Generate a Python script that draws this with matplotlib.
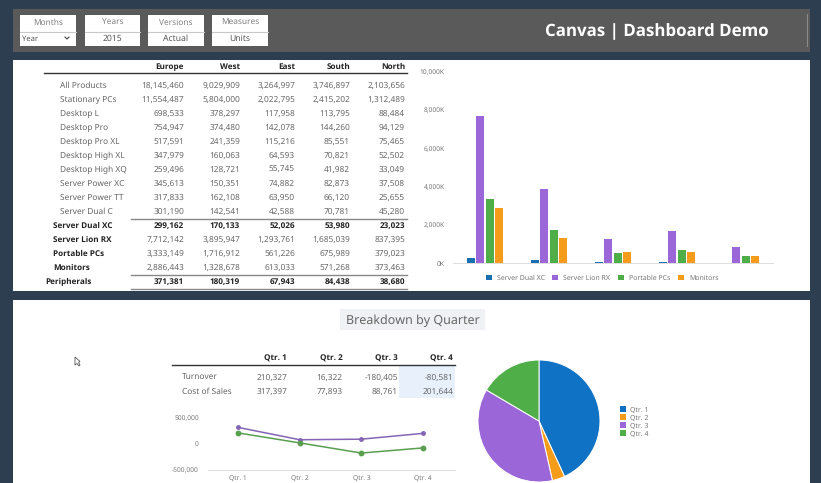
import numpy as np
import matplotlib
matplotlib.use('Agg')
import matplotlib.pyplot as plt
from matplotlib.patches import Rectangle, Polygon

plt.rcParams['font.family'] = ['Noto Sans', 'DejaVu Sans']
plt.rcParams['text.hinting'] = 'no_hinting'

W, H = 821, 483

# main table
regions = ['Europe', 'West', 'East', 'South', 'North']
products = ['All Products', 'Stationary PCs', 'Desktop L', 'Desktop Pro', 'Desktop Pro XL',
            'Desktop High XL', 'Desktop High XQ', 'Server Power XC', 'Server Power TT',
            'Server Dual C', 'Server Dual XC', 'Server Lion RX', 'Portable PCs',
            'Monitors', 'Peripherals']
all_products = [18145460, 9029909, 3264997, 3746897, 2103656]
stationary = [11554487, 5804000, 2022795, 2415202, 1312489]
desktop_l = [698533, 378297, 117958, 113795, 88484]
desktop_pro = [754947, 374480, 142078, 144260, 94129]
desktop_pro_xl = [517591, 241359, 115216, 85551, 75465]
desktop_high_xl = [347979, 160063, 64593, 70821, 52502]
desktop_high_xq = [259496, 128721, 55745, 41982, 33049]
server_power_xc = [345613, 150351, 74882, 82873, 37508]
server_power_tt = [317833, 162108, 63950, 66120, 25655]
server_dual_c = [301190, 142541, 42588, 70781, 45280]
server_dual_xc = [299162, 170133, 52026, 53980, 23023]
server_lion_rx = [7712142, 3895947, 1293761, 1685039, 837395]
portable = [3333149, 1716912, 561226, 675989, 379023]
monitors = [2886443, 1328678, 613033, 571268, 373463]
peripherals = [371381, 180319, 67943, 84438, 38680]
table_rows = [all_products, stationary, desktop_l, desktop_pro, desktop_pro_xl,
              desktop_high_xl, desktop_high_xq, server_power_xc, server_power_tt,
              server_dual_c, server_dual_xc, server_lion_rx, portable, monitors, peripherals]

# bar chart
bar_names = ['Server Dual XC', 'Server Lion RX', 'Portable PCs', 'Monitors']
bar_series = [server_dual_xc, server_lion_rx, portable, monitors]
bar_ticks = [0, 2000, 4000, 6000, 8000, 10000]

# quarters
quarters = ['Qtr. 1', 'Qtr. 2', 'Qtr. 3', 'Qtr. 4']
turnover = [210327, 16322, -180405, -80581]
cost_of_sales = [317397, 77893, 88761, 201644]
line_ticks = [-500000, 0, 500000]

# slicers
slicer_titles = ['Months', 'Years', 'Versions', 'Measures']
slicer_values = ['Year', '2015', 'Actual', 'Units']
slicer_x = [20, 85, 148, 212]
slicer_w = [56, 55, 56, 56]

NAVY = '#2d3e50'
BLUE = '#0f72c4'
ORANGE = '#f59c1a'
PURPLE = '#9b66d8'
GREEN = '#4fae48'
GREY = '#666666'
DARK = '#222222'

# Noto Sans has no usable bold here, Open Sans does
BOLD = {'family': ['Open Sans', 'DejaVu Sans'], 'fontweight': 'bold'}


def px_axes(fig, x0, y0, x1, y1):
    # axes from pixel box, y measured from the top
    return fig.add_axes([x0 / W, 1 - y1 / H, (x1 - x0) / W, (y1 - y0) / H])


def fmt(v):
    return f'{v:,}'


fig = plt.figure(figsize=(W / 100, H / 100), dpi=100, facecolor=NAVY)

bg = fig.add_axes([0, 0, 1, 1])
bg.set_xlim(0, W)
bg.set_ylim(H, 0)
bg.axis('off')


def txt(x, y, s, ha='left', **kw):
    # centre of the text sits a bit high without hinting
    return bg.text(x, y + 0.8, s, ha=ha, va='center', **kw)


# panels
bg.add_patch(Rectangle((13, 9), 797, 43, fc='#5a5a5a', ec='none'))
bg.add_patch(Rectangle((13, 60), 797, 231, fc='white', ec='none'))
bg.add_patch(Rectangle((13, 300), 797, 183, fc='white', ec='none'))

# slicers
for title, val, x, w in zip(slicer_titles, slicer_values, slicer_x, slicer_w):
    bg.add_patch(Rectangle((x, 15), w, 31, fc='white', ec='none'))
    bg.plot([x, x + w], [31.5, 31.5], color='#c8c8c8', lw=0.8)
    txt(x + w / 2, 21.5, title, ha='center', fontsize=6, color='#808080')
    if val == 'Year':
        txt(x + 2, 38, val, fontsize=5.5, color='#555555')
        bg.plot([65, 67, 69], [37, 39, 37], color='#444444', lw=0.8)
    else:
        txt(x + w / 2, 38, val, ha='center', fontsize=6.2, color='#555555')

txt(657, 30.5, 'Canvas | Dashboard Demo', ha='center', fontsize=12.2, color='white', **BOLD)
bg.plot([807, 807], [14, 46], color='#8a8a8a', lw=0.8)

# main table
col_right = [184, 240, 295, 350, 405]
row_top = 85
row_step = 14.0
for name, r in zip(regions, col_right):
    txt(r, 66, name, ha='right', fontsize=5.9, color=DARK, **BOLD)
bg.plot([44, 407], [72.5, 72.5], color='#333333', lw=1.0)
for i, (name, vals) in enumerate(zip(products, table_rows)):
    y = row_top + row_step * i
    label_bold = i >= 10
    x = 45 if name == 'Peripherals' else (53 if label_bold else 60)
    if label_bold:
        txt(x, y, name, fontsize=5.9, color=DARK, **BOLD)
    else:
        txt(x, y, name, fontsize=6, color=GREY)
    val_bold = name in ('Server Dual XC', 'Peripherals')
    for v, r in zip(vals, col_right):
        if val_bold:
            txt(r, y, fmt(v), ha='right', fontsize=5.9, color=DARK, **BOLD)
        else:
            txt(r, y, fmt(v), ha='right', fontsize=6, color=GREY)
for y in [219, 275, 289]:
    bg.plot([131, 407], [y, y], color='#888888', lw=1.0)

# bar legend
bar_colors = ['#1a6fb0', PURPLE, GREEN, ORANGE]
for name, c, x in zip(bar_names, bar_colors, [486, 552, 618, 678]):
    bg.add_patch(Rectangle((x, 274.5), 5.5, 5.5, fc=c, ec='none'))
    txt(x + 11, 277, name, fontsize=5, color='#777777')

# section title
bg.add_patch(Rectangle((340, 309), 145, 21, fc='#f0f1f5', ec='none'))
txt(412.5, 320, 'Breakdown by Quarter', ha='center', fontsize=9, color='#666666')

# quarter table
q_right = [287, 342.5, 398, 453]
bg.add_patch(Rectangle((399, 366), 56, 32, fc='#e8f0fb', ec='none'))
for q, r in zip(quarters, q_right):
    txt(r, 358, q, ha='right', fontsize=5.9, color=DARK, **BOLD)
bg.plot([172, 455], [365, 365], color='#333333', lw=1.0)
for name, vals, y in zip(['Turnover', 'Cost of Sales'], [turnover, cost_of_sales], [377, 391]):
    txt(182, y, name, fontsize=6, color=GREY)
    for v, r in zip(vals, q_right):
        txt(r, y, fmt(v), ha='right', fontsize=6, color=GREY)

# pie legend
for q, c, y in zip(quarters, [BLUE, ORANGE, PURPLE, GREEN], [409, 417, 425, 433]):
    bg.add_patch(Rectangle((619.5, y - 3), 6, 6, fc=c, ec='none'))
    txt(630, y, q, fontsize=5, color='#777777')

# mouse pointer
bg.add_patch(Polygon([(75, 357), (75, 365), (77, 363.5), (79, 366), (80, 365), (78.5, 362.5), (80, 361.5)],
                     closed=True, fc='white', ec='#555555', lw=0.6))

# bars
ax = px_axes(fig, 453, 71.7, 773, 263.3)
x = np.arange(len(regions))
for i, (vals, c) in enumerate(zip(bar_series, bar_colors)):
    ax.bar(x + (i - 1.5) * 0.15, np.array(vals) / 1000, width=0.125, color=c)
ax.set_xlim(-0.5, 4.5)
ax.set_ylim(0, 10000)
ax.set_yticks(bar_ticks)
ax.set_yticklabels([f'{t:,}K' for t in bar_ticks], fontsize=4.8, color='#777777')
ax.set_xticks([])
ax.tick_params(axis='y', length=0, pad=6)
for s in ['top', 'right', 'left']:
    ax.spines[s].set_visible(False)
ax.spines['bottom'].set_color('#dddddd')
ax.spines['bottom'].set_linewidth(0.7)
ax.patch.set_alpha(0)

# lines
ax2 = px_axes(fig, 208, 418, 455, 469.5)
xq = np.arange(len(quarters))
ax2.plot(xq, cost_of_sales, color='#8465b5', lw=1.1, marker='o', ms=2.5)
ax2.plot(xq, turnover, color='#5a9e50', lw=1.1, marker='o', ms=3.2)
ax2.set_xlim(-0.49, 3.52)
ax2.set_ylim(-500000, 500000)
ax2.set_yticks(line_ticks)
ax2.set_yticklabels([fmt(t) for t in line_ticks], fontsize=4.8, color='#777777')
ax2.set_xticks(xq)
ax2.set_xticklabels(quarters, fontsize=4.8, color='#777777')
ax2.tick_params(length=0)
ax2.tick_params(axis='y', pad=6.5)
ax2.tick_params(axis='x', pad=3.5)
for s in ['top', 'right', 'left']:
    ax2.spines[s].set_visible(False)
ax2.spines['bottom'].set_color('#dddddd')
ax2.spines['bottom'].set_linewidth(0.7)
ax2.patch.set_alpha(0)

# pie
ax3 = px_axes(fig, 478, 360, 600, 482)
ax3.pie(np.abs(turnover), colors=[BLUE, ORANGE, PURPLE, GREEN], startangle=90, counterclock=False,
        radius=1.0, wedgeprops={'edgecolor': 'white', 'linewidth': 0.7})
ax3.set_xlim(-1, 1)
ax3.set_ylim(-1, 1)

fig.savefig('out.png', dpi=100, facecolor=NAVY)
